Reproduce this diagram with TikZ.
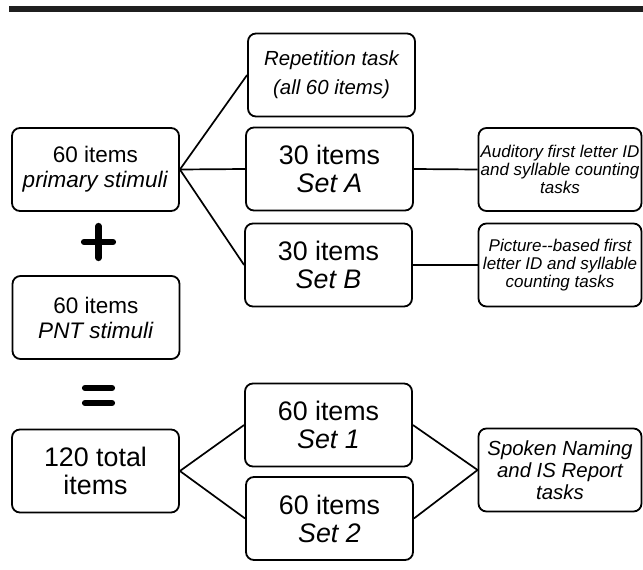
\documentclass[tikz,border=0pt]{standalone}
\usepackage{fontspec}
\setmainfont{Liberation Sans}
\begin{document}
\begin{tikzpicture}[x=1pt,y=-1pt,
  box/.style={draw=black, line width=1.8pt, rounded corners=8pt, minimum width=167pt, minimum height=83pt, inner sep=0pt, align=center},
  rbox/.style={box, minimum width=163pt},
  link/.style={line width=1.7pt},
  sym/.style={line width=6.2pt, line cap=round},
  fbig/.style={font=\fontsize{26.8}{28}\selectfont},
  fmid/.style={font=\fontsize{22.5}{25}\selectfont},
  frep/.style={font=\fontsize{20.4}{29}\selectfont\itshape},
  fsmall/.style={font=\fontsize{17}{18}\selectfont\itshape},
  fspk/.style={font=\fontsize{20.4}{22}\selectfont\itshape}]
\useasboundingbox (0,0) rectangle (643,570);
\fill[black!88] (9,6) rectangle (643,12);
% left column
\node[box, fmid] (prim) at (95.5,169.5) {60 items\\\textit{primary stimuli}};
\node[box, fmid] (pnt) at (96,317.5) {60 items\\\textit{PNT stimuli}};
\node[box, fbig] (tot) at (95.5,471) {120 total\\items};
% middle column
\node[box, frep] (rep) at (331.5,75) {Repetition task\\(all 60 items)};
\node[box, fbig] (seta) at (329.5,169) {30 items\\\textit{Set A}};
\node[box, fbig] (setb) at (328.5,265) {30 items\\\textit{Set B}};
\node[box, fbig] (set1) at (328.5,425) {60 items\\\textit{Set 1}};
\node[box, fbig] (set2) at (329.5,518.5) {60 items\\\textit{Set 2}};
% right column
\node[rbox, fsmall] (aud) at (560,169.5) {Auditory first letter ID\\and syllable counting\\tasks};
\node[rbox, fsmall] (pic) at (560,265) {Picture-{}-based first\\letter ID and syllable\\counting tasks};
\node[rbox, fspk] (spk) at (560,470) {Spoken Naming\\and IS Report\\tasks};
% symbols
\draw[sym] (84,242) -- (113,242);
\draw[sym] (98.5,226) -- (98.5,258);
\draw[sym] (85,388) -- (112,388);
\draw[sym] (85,403) -- (112,403);
% connectors
\draw[link] (prim.east) -- (rep.west);
\draw[link] (prim.east) -- (seta.west);
\draw[link] (prim.east) -- (setb.west);
\draw[link] (seta.east) -- (aud.west);
\draw[link] (setb.east) -- (pic.west);
\draw[link] (tot.east) -- (set1.west);
\draw[link] (tot.east) -- (set2.west);
\draw[link] (set1.east) -- (spk.west);
\draw[link] (set2.east) -- (spk.west);
\end{tikzpicture}
\end{document}
